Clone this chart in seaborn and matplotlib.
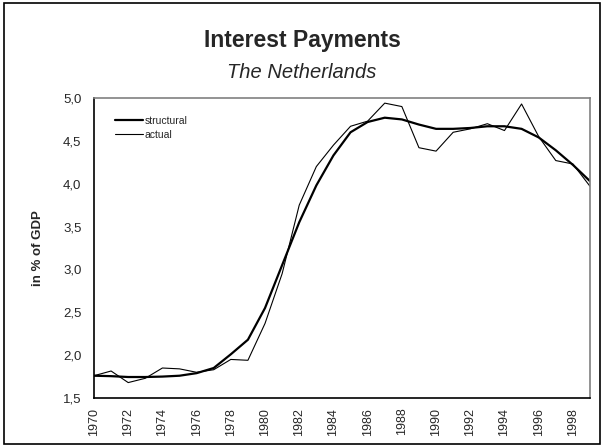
import numpy as np
import pandas as pd
import matplotlib
matplotlib.use("Agg")
import matplotlib.pyplot as plt
import seaborn as sns
from matplotlib.ticker import FuncFormatter
from matplotlib.patches import Rectangle

# 数据：1970-1999 利息支出占 GDP 比例
years = list(range(1970, 2000))
structural = [1.76, 1.755, 1.745, 1.745, 1.75, 1.76, 1.79, 1.85, 2.01, 2.18,
              2.55, 3.05, 3.55, 3.98, 4.33, 4.60, 4.72, 4.77, 4.75, 4.69,
              4.64, 4.64, 4.65, 4.67, 4.67, 4.64, 4.54, 4.39, 4.22, 4.03]
actual = [1.76, 1.815, 1.68, 1.73, 1.85, 1.84, 1.80, 1.83, 1.95, 1.94,
          2.37, 2.95, 3.75, 4.20, 4.45, 4.67, 4.73, 4.94, 4.90, 4.42,
          4.38, 4.60, 4.64, 4.70, 4.62, 4.93, 4.55, 4.27, 4.23, 3.97]

sns.set_style("white")
plt.rcParams['font.family'] = ['Liberation Sans', 'DejaVu Sans']

df = pd.DataFrame({'year': years * 2,
                   'value': structural + actual,
                   'series': ['structural'] * len(years) + ['actual'] * len(years)})

fig = plt.figure(figsize=(6.04, 4.46), dpi=100)
ax = fig.add_axes([0.1556, 0.1076, 0.8212, 0.6727])

sns.lineplot(data=df, x='year', y='value', hue='series', size='series',
             palette={'structural': 'black', 'actual': 'black'},
             sizes={'structural': 1.6, 'actual': 0.8}, ax=ax, legend=False)

# 图例（手动句柄，左上角）
ax.plot([], [], color='black', lw=1.6, label='structural')
ax.plot([], [], color='black', lw=0.8, label='actual')
ax.legend(loc='upper left', frameon=False, fontsize=7.5, handlelength=2.7,
          handletextpad=0.15, labelspacing=0.38, borderaxespad=0, borderpad=0,
          bbox_to_anchor=(0.042, 0.94))

ax.set_xlim(1970, 1999)
ax.set_ylim(1.5, 5.0)
ax.set_xticks(years)
ax.set_xticklabels([str(y) if y % 2 == 0 else '' for y in years],
                   rotation=90, fontsize=9)
ax.set_yticks(np.arange(1.5, 5.01, 0.5))
ax.yaxis.set_major_formatter(FuncFormatter(lambda v, p: f"{v:.1f}".replace('.', ',')))
ax.tick_params(axis='y', labelsize=9.5, pad=5)
ax.tick_params(axis='x', pad=3)
ax.tick_params(direction='inout', length=8, width=1, color='black')
ax.set_xlabel('')
ax.set_ylabel('in % of GDP', fontsize=9.5, fontweight='bold')
ax.yaxis.set_label_coords(-0.1, 0.5)

for s in ['left', 'bottom']:
    ax.spines[s].set_color('black')
    ax.spines[s].set_linewidth(1.2)
for s in ['top', 'right']:
    ax.spines[s].set_color('#808080')
    ax.spines[s].set_linewidth(1.2)

fig.text(0.5, 1 - 47 / 446, 'Interest Payments', ha='center', va='baseline',
         fontsize=16.5, fontweight='bold')
fig.text(0.5, 1 - 78 / 446, 'The Netherlands', ha='center', va='baseline',
         fontsize=14.5, style='italic')

# 外边框
fig.patches.append(Rectangle((0.006, 0.004), 0.988, 0.99, transform=fig.transFigure,
                             fill=False, edgecolor='black', linewidth=1.2))

fig.savefig('out.png', dpi=100)
